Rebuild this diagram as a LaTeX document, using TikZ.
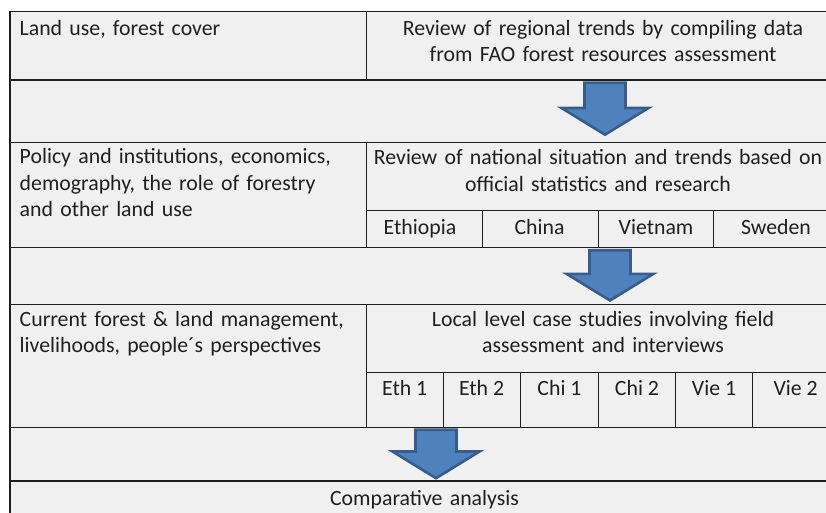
\documentclass[tikz,border=0pt]{standalone}
\usepackage{fontspec}
\setmainfont{Carlito}
\definecolor{cellgray}{HTML}{F0F0F0}
\definecolor{rule}{HTML}{1E1E1E}
\definecolor{arrowfill}{HTML}{4F81BD}
\definecolor{arrowedge}{HTML}{385D8A}
% block arrow pointing down: tip x, tip y, top y (y grows downward)
\newcommand{\blockarrow}[3]{%
  \draw[arrowstyle] (#1,#2-1.8) -- (#1-43.5,#2-28.5) -- (#1-20.5,#2-28.5)
    -- (#1-20.5,#3+1.2) -- (#1+20.5,#3+1.2) -- (#1+20.5,#2-28.5)
    -- (#1+43.5,#2-28.5) -- cycle;}
\begin{document}
\begin{tikzpicture}[x=1pt,y=-1pt,
  tline/.style={draw=rule,line width=1.3pt},
  arrowstyle/.style={fill=arrowfill,draw=arrowedge,line width=2.6pt,line join=miter},
  celltext/.style={inner sep=0pt,text=black!88,font=\fontsize{21.8}{26.5}\selectfont},
  lefttext/.style={celltext,anchor=base west,text width=345pt,align=left},
  ctrtext/.style={celltext,anchor=base,text width=480pt,align=center}]
\useasboundingbox (0,0) rectangle (826,513);
\fill[white] (0,0) rectangle (826,513);
\fill[cellgray] (10,11.7) rectangle (830,515);

% outer frame and row separators
\draw[tline] (10,515) -- (10,11.7) -- (830,11.7);
\foreach \yy in {80,142.7,247.7,304.3,427.3,481}
  \draw[tline] (10,\yy) -- (830,\yy);
% column divider in the three content rows
\draw[tline] (366.7,11.7) -- (366.7,80);
\draw[tline] (366.7,142.7) -- (366.7,247.7);
\draw[tline] (366.7,304.3) -- (366.7,427.3);
% country sub-row
\draw[tline] (366.7,210.7) -- (830,210.7);
\foreach \xx in {482.3,598.3,713.7}
  \draw[tline] (\xx,210.7) -- (\xx,247.7);
% case-study sub-row
\draw[tline] (366.7,372.3) -- (830,372.3);
\foreach \xx in {443.3,520.3,598.7,675.7,752.7}
  \draw[tline] (\xx,372.3) -- (\xx,427.3);

% left column labels
\node[lefttext] (scope1) at (19.5,35.2) {Land use, forest cover};
\node[lefttext] (scope2) at (19.5,163.7) {Policy and institutions, economics,\\demography, the role of forestry\\and other land use};
\node[lefttext] (scope3) at (19.5,326) {Current forest \& land management,\\livelihoods, people´s perspectives};

% right column methods
\node[ctrtext] (regional) at (603,35.2) {Review of regional trends by compiling data\\from FAO forest resources assessment};
\node[ctrtext] (national) at (598,164.5) {Review of national situation and trends based on\\official statistics and research};
\node[ctrtext] (local) at (603,326) {Local level case studies involving field\\assessment and interviews};
\node[ctrtext] (compare) at (424.5,505) {Comparative analysis};

% countries
\node[celltext,anchor=base] (eth) at (420,234) {Ethiopia};
\node[celltext,anchor=base] (chi) at (539.5,234) {China};
\node[celltext,anchor=base] (vie) at (656,234) {Vietnam};
\node[celltext,anchor=base] (swe) at (776,234) {Sweden};

% case studies
\node[celltext,anchor=base] (eth1) at (404.7,395) {Eth 1};
\node[celltext,anchor=base] (eth2) at (481.6,395) {Eth 2};
\node[celltext,anchor=base] (chi1) at (559.5,395) {Chi 1};
\node[celltext,anchor=base] (chi2) at (637,395) {Chi 2};
\node[celltext,anchor=base] (vie1) at (714,395) {Vie 1};
\node[celltext,anchor=base] (vie2) at (795.6,395) {Vie 2};

% flow arrows between stages
\blockarrow{605}{136.5}{81.5}
\blockarrow{610}{302.3}{249}
\blockarrow{436}{480}{428.5}
\end{tikzpicture}
\end{document}
